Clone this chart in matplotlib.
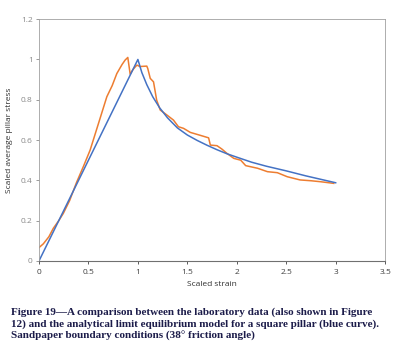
import numpy as np
import matplotlib
matplotlib.use('Agg')
from matplotlib import pyplot as plt

# analytical limit equilibrium model (blue)
model_x = [0, 1.0, 1.04, 1.09, 1.15, 1.22, 1.3, 1.4, 1.5, 1.6, 1.7, 1.8, 1.9, 2.0,
           2.15, 2.3, 2.5, 2.7, 2.85, 3.0]
model_y = [0, 1.0, 0.935, 0.875, 0.815, 0.76, 0.71, 0.66, 0.625, 0.598, 0.574, 0.552, 0.532, 0.515,
           0.49, 0.47, 0.447, 0.422, 0.405, 0.388]

# laboratory data (orange)
lab_x = [0, 0.044, 0.1, 0.145, 0.2, 0.246, 0.31, 0.38, 0.45, 0.517, 0.6, 0.686, 0.74, 0.787,
         0.84, 0.871, 0.898, 0.922, 0.95, 0.99, 1.02, 1.09, 1.10, 1.125, 1.158, 1.19,
         1.226, 1.294, 1.36, 1.41, 1.462, 1.53, 1.62, 1.715, 1.733, 1.80, 1.85, 1.90,
         1.97, 2.04, 2.09, 2.21, 2.31, 2.41, 2.51, 2.64, 2.75, 2.85, 2.98]
lab_y = [0.066, 0.085, 0.12, 0.162, 0.2, 0.236, 0.3, 0.39, 0.47, 0.55, 0.68, 0.815, 0.87, 0.93,
         0.975, 0.997, 1.01, 0.927, 0.95, 0.972, 0.965, 0.967, 0.955, 0.906, 0.889, 0.798,
         0.749, 0.724, 0.699, 0.666, 0.658, 0.638, 0.625, 0.611, 0.575, 0.572, 0.555, 0.534,
         0.509, 0.50, 0.473, 0.46, 0.443, 0.438, 0.418, 0.402, 0.398, 0.393, 0.385]

xticks = [0, 0.5, 1, 1.5, 2, 2.5, 3, 3.5]
yticks = [0, 0.2, 0.4, 0.6, 0.8, 1, 1.2]

caption = ("Figure 19\u2014A comparison between the laboratory data (also shown in Figure\n"
           "12) and the analytical limit equilibrium model for a square pillar (blue curve).\n"
           "Sandpaper boundary conditions (38\u00b0 friction angle)")

plt.rcParams['font.family'] = ['Open Sans', 'DejaVu Sans']

fig = plt.figure(figsize=(4.02, 3.55), dpi=100)
ax = fig.add_axes([0.097, 0.265, 0.861, 0.681])

ax.plot(lab_x, lab_y, color='#ED7D31', lw=1.1)
ax.plot(model_x, model_y, color='#4472C4', lw=1.1)

ax.set_xlim(0, 3.5)
ax.set_ylim(0, 1.2)
ax.set_xticks(xticks)
ax.set_xticklabels([f'{t:g}' for t in xticks])
ax.set_yticks(yticks)
ax.set_yticklabels([f'{t:g}' for t in yticks])
ax.tick_params(axis='x', labelsize=6, colors='#404040', length=2.5, width=0.6, pad=3)
ax.tick_params(axis='y', labelsize=6, labelcolor='#8a8a8a', color='#8a8a8a', length=2.5, width=0.6, pad=2)
for s in ['top', 'right', 'left']:
    ax.spines[s].set_color('#a0a0a0')
    ax.spines[s].set_linewidth(0.6)
ax.spines['bottom'].set_color('#707070')
ax.spines['bottom'].set_linewidth(0.8)

ax.set_xlabel('Scaled strain', fontsize=6, color='#303030', labelpad=4)
ax.set_ylabel('Scaled average pillar stress', fontsize=6, color='#303030', labelpad=6)

fig.text(0.028, 0.135, caption, fontsize=8.0, fontweight='bold', family='Liberation Serif',
         color='#1c1c4a', va='top', ha='left', linespacing=1.3)

fig.savefig('out.png', dpi=100)
